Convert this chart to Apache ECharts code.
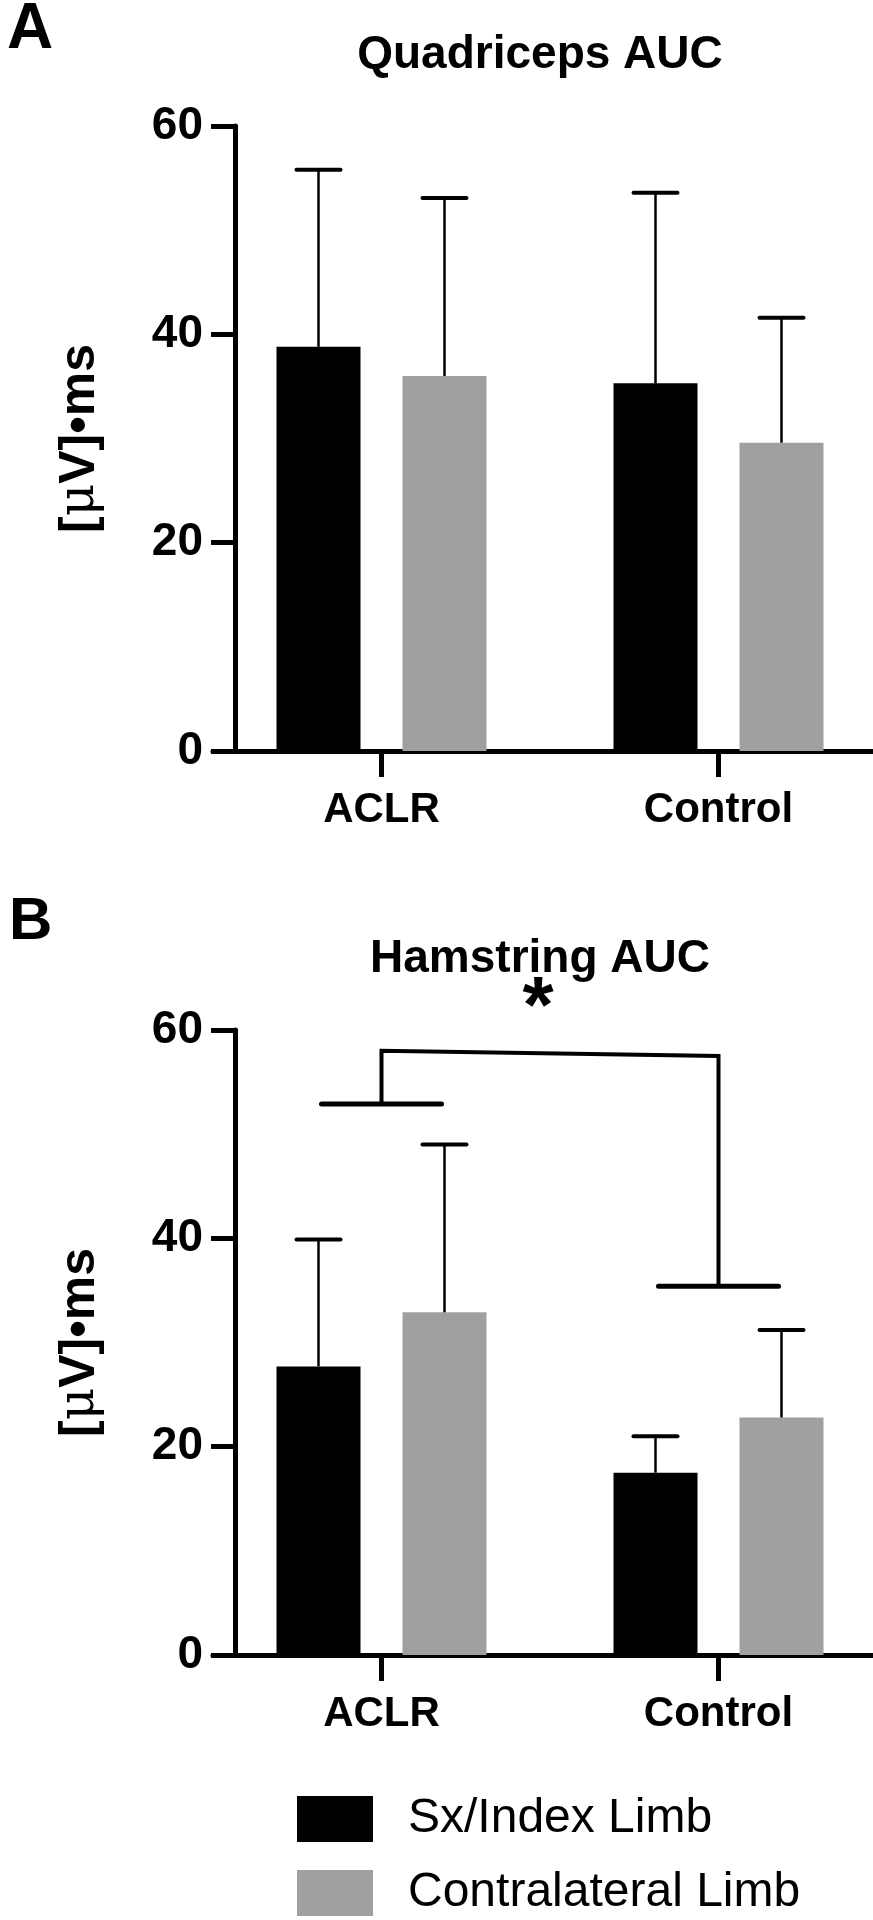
<!DOCTYPE html>
<html>
<head>
<meta charset="utf-8">
<script src="https://cdn.jsdelivr.net/npm/echarts@6/dist/echarts.min.js"></script>
<style>
  html, body { margin: 0; padding: 0; background: #fff; overflow: hidden; }
  #chart { width: 892px; height: 1920px; }
</style>
</head>
<body>
<div id="chart"></div>
<script>
// ---- data ----
const categories = ['ACLR', 'Control'];
const seriesNames = ['Sx/Index Limb', 'Contralateral Limb'];
const yTicks = [0, 20, 40, 60];

// Panel A: Quadriceps AUC (mean, SD)
const quadSxMean = [38.8, 35.3];
const quadSxSD = [17.0, 18.3];
const quadContraMean = [36.0, 29.6];
const quadContraSD = [17.1, 12.0];

// Panel B: Hamstring AUC (mean, SD)
const hamSxMean = [27.7, 17.5];
const hamSxSD = [12.2, 3.5];
const hamContraMean = [32.9, 22.8];
const hamContraSD = [16.1, 8.4];

// significance bracket levels (panel B)
const sigGroupLevel = [52.9, 35.4];   // ACLR, Control short bars
const sigTopLevel = [58.0, 57.5];     // top connecting line ends
const sigLabel = '*';

// ---- style constants ----
const BAR_W = 84;
const BAR_GAP = 0.5;
const OFFSET = BAR_W * (1 + BAR_GAP) / 2;
const CAP = 44;
const SIG_HALF = 60;
const BLACK = '#000000';
const GRAY = '#a0a0a0';
const FONT = 'Liberation Sans, Arial, sans-serif';

function errRender(sign) {
  return function (params, api) {
    const c = api.value(0), m = api.value(1), sd = api.value(2);
    const p0 = api.coord([c, m]);
    const p1 = api.coord([c, m + sd]);
    const x = p0[0] + sign * OFFSET;
    return {
      type: 'group',
      children: [
        { type: 'line', shape: { x1: x, y1: p0[1], x2: x, y2: p1[1] }, style: { stroke: BLACK, lineWidth: 2.5 } },
        { type: 'line', shape: { x1: x - CAP / 2, y1: p1[1], x2: x + CAP / 2, y2: p1[1] }, style: { stroke: BLACK, lineWidth: 4, lineCap: 'round' } }
      ]
    };
  };
}

function errData(mean, sd) {
  return mean.map((m, i) => [i, m, sd[i]]);
}

function sigRender(params, api) {
  const a = api.coord([0, sigGroupLevel[0]]);
  const b = api.coord([1, sigGroupLevel[1]]);
  const ta = api.coord([0, sigTopLevel[0]]);
  const tb = api.coord([1, sigTopLevel[1]]);
  const midX = (ta[0] + tb[0]) / 2 - 12;
  const midY = (ta[1] + tb[1]) / 2;
  return {
    type: 'group',
    children: [
      { type: 'line', shape: { x1: a[0] - SIG_HALF, y1: a[1], x2: a[0] + SIG_HALF, y2: a[1] }, style: { stroke: BLACK, lineWidth: 5, lineCap: 'round' } },
      { type: 'line', shape: { x1: b[0] - SIG_HALF, y1: b[1], x2: b[0] + SIG_HALF, y2: b[1] }, style: { stroke: BLACK, lineWidth: 5, lineCap: 'round' } },
      { type: 'polyline', shape: { points: [[a[0], a[1]], [ta[0], ta[1]], [tb[0], tb[1]], [b[0], b[1]]] }, style: { stroke: BLACK, lineWidth: 4, fill: null } },
      { type: 'text', x: midX, y: midY - 4, style: { text: sigLabel, fontSize: 80, fontWeight: 'bold', fontFamily: FONT, fill: BLACK, align: 'center', verticalAlign: 'bottom' } }
    ]
  };
}

const chart = echarts.init(document.getElementById('chart'), null, { renderer: 'canvas' });

function makeXAxis(gridIndex) {
  return {
    type: 'category', gridIndex, data: categories,
    axisLine: { show: true, lineStyle: { color: BLACK, width: 5, cap: 'round' } },
    axisTick: { show: true, alignWithLabel: true, length: 26, lineStyle: { color: BLACK, width: 5 } },
    axisLabel: { color: BLACK, fontSize: 42, fontWeight: 'bold', fontFamily: FONT, margin: 38 },
    splitLine: { show: false }
  };
}
function makeYAxis(gridIndex) {
  return {
    type: 'value', gridIndex, min: yTicks[0], max: yTicks[yTicks.length - 1], interval: yTicks[1] - yTicks[0],
    offset: -22,
    name: '[{mu|μ}V]•ms', nameLocation: 'middle', nameGap: 130,
    nameTextStyle: {
      color: BLACK, fontSize: 50, fontWeight: 'bold', fontFamily: FONT,
      rich: { mu: { fontSize: 50, fontWeight: 'normal', fontFamily: 'DejaVu Serif, serif', color: BLACK } }
    },
    axisLine: { show: true, lineStyle: { color: BLACK, width: 5 } },
    axisTick: { show: true, length: 24, lineStyle: { color: BLACK, width: 5 } },
    axisLabel: { color: BLACK, fontSize: 46, fontWeight: 'bold', fontFamily: FONT, margin: 32 },
    splitLine: { show: false }
  };
}

function makeLegend(name, top) {
  return {
    orient: 'vertical', left: 292, top: top,
    itemWidth: 76, itemHeight: 46,
    icon: 'rect',
    data: [name],
    textStyle: { color: BLACK, fontSize: 48, fontFamily: FONT, padding: [0, 0, 0, 30] },
    selectedMode: false
  };
}

const option = {
  animation: false,
  backgroundColor: '#ffffff',
  grid: [
    { left: 213, width: 674, top: 126, height: 625, containLabel: false },
    { left: 213, width: 674, top: 1030, height: 625, containLabel: false }
  ],
  xAxis: [makeXAxis(0), makeXAxis(1)],
  yAxis: [makeYAxis(0), makeYAxis(1)],
  legend: [makeLegend(seriesNames[0], 1790), makeLegend(seriesNames[1], 1864)],
  graphic: [
    { type: 'text', x: 7, y: -2, style: { text: 'A', fontSize: 64, fontWeight: 'bold', fontFamily: FONT, fill: BLACK, align: 'left', verticalAlign: 'top' } },
    { type: 'text', x: 9, y: 892, style: { text: 'B', fontSize: 60, fontWeight: 'bold', fontFamily: FONT, fill: BLACK, align: 'left', verticalAlign: 'top' } },
    { type: 'text', x: 540, y: 32, style: { text: 'Quadriceps AUC', fontSize: 46, fontWeight: 'bold', fontFamily: FONT, fill: BLACK, align: 'center', verticalAlign: 'top' } },
    { type: 'text', x: 540, y: 936, style: { text: 'Hamstring AUC', fontSize: 46, fontWeight: 'bold', fontFamily: FONT, fill: BLACK, align: 'center', verticalAlign: 'top' } }
  ],
  series: [
    { name: seriesNames[0], type: 'bar', xAxisIndex: 0, yAxisIndex: 0, data: quadSxMean, barWidth: BAR_W, barGap: (BAR_GAP * 100) + '%', itemStyle: { color: BLACK } },
    { name: seriesNames[1], type: 'bar', xAxisIndex: 0, yAxisIndex: 0, data: quadContraMean, barWidth: BAR_W, barGap: (BAR_GAP * 100) + '%', itemStyle: { color: GRAY } },
    { name: seriesNames[0], type: 'bar', xAxisIndex: 1, yAxisIndex: 1, data: hamSxMean, barWidth: BAR_W, barGap: (BAR_GAP * 100) + '%', itemStyle: { color: BLACK } },
    { name: seriesNames[1], type: 'bar', xAxisIndex: 1, yAxisIndex: 1, data: hamContraMean, barWidth: BAR_W, barGap: (BAR_GAP * 100) + '%', itemStyle: { color: GRAY } },
    { type: 'custom', xAxisIndex: 0, yAxisIndex: 0, renderItem: errRender(-1), data: errData(quadSxMean, quadSxSD), encode: { x: 0, y: 1 }, z: 3, silent: true },
    { type: 'custom', xAxisIndex: 0, yAxisIndex: 0, renderItem: errRender(1), data: errData(quadContraMean, quadContraSD), encode: { x: 0, y: 1 }, z: 3, silent: true },
    { type: 'custom', xAxisIndex: 1, yAxisIndex: 1, renderItem: errRender(-1), data: errData(hamSxMean, hamSxSD), encode: { x: 0, y: 1 }, z: 3, silent: true },
    { type: 'custom', xAxisIndex: 1, yAxisIndex: 1, renderItem: errRender(1), data: errData(hamContraMean, hamContraSD), encode: { x: 0, y: 1 }, z: 3, silent: true },
    { type: 'custom', xAxisIndex: 1, yAxisIndex: 1, renderItem: sigRender, data: [[0, sigGroupLevel[0]]], encode: { x: 0, y: 1 }, z: 4, silent: true }
  ]
};
chart.setOption(option);
</script>
</body>
</html>
